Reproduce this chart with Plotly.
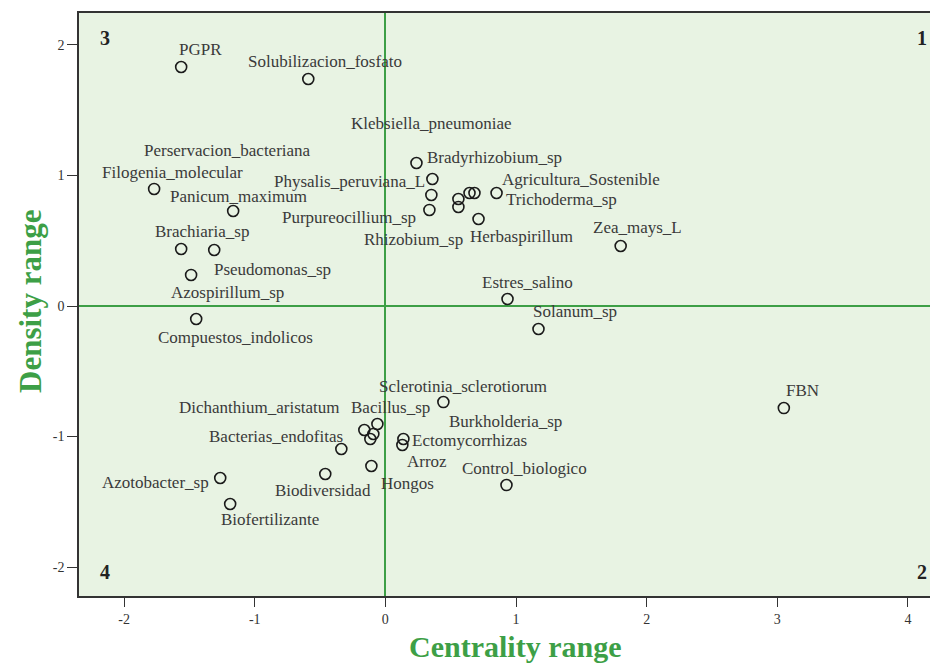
import plotly.graph_objects as go

names = ["PGPR", "Solubilizacion_fosfato", "Filogenia_molecular", "Panicum_maximum",
         "Brachiaria_sp", "Pseudomonas_sp", "Azospirillum_sp", "Compuestos_indolicos",
         "Bradyrhizobium_sp", "Physalis_peruviana_L", "Klebsiella_pneumoniae", "Purpureocillium_sp",
         "Perservacion_bacteriana", "Rhizobium_sp", "", "Agricultura_Sostenible",
         "Trichoderma_sp", "Herbaspirillum", "Zea_mays_L", "Estres_salino", "Solanum_sp", "FBN",
         "Sclerotinia_sclerotiorum", "Bacillus_sp", "Dichanthium_aristatum", "Burkholderia_sp", "",
         "Bacterias_endofitas", "Ectomycorrhizas", "Arroz", "Hongos", "Biodiversidad",
         "Azotobacter_sp", "Biofertilizante", "Control_biologico"]
centrality = [-1.563, -0.590, -1.770, -1.165,
              -1.563, -1.310, -1.487, -1.448,
              0.238, 0.360, 0.352, 0.337,
              0.559, 0.559, 0.644, 0.682,
              0.851, 0.713, 1.801, 0.935, 1.172, 3.050,
              0.444, -0.061, -0.161, -0.092, -0.115,
              -0.337, 0.138, 0.130, -0.107, -0.460,
              -1.264, -1.188, 0.927]
density = [1.831, 1.739, 0.897, 0.728,
           0.437, 0.429, 0.238, -0.100,
           1.096, 0.973, 0.851, 0.736,
           0.820, 0.759, 0.866, 0.866,
           0.866, 0.667, 0.460, 0.054, -0.176, -0.782,
           -0.736, -0.904, -0.950, -0.981, -1.019,
           -1.096, -1.019, -1.065, -1.226, -1.287,
           -1.318, -1.517, -1.372]
# label placement offsets in pixels (dx right, dy down)
label_dx = [19, 17, 18, 5, 21, 58, 36, 39, 78, -83, 0, -80, -231, -45, 0, 107, 65, 43, 17, 20, 37, 19,
            20, 13, -105, 132, 0, -65, 66, 25, 36, -2, -65, 40, 18]
label_dy = [-18, -18, -16, -14, -17, 19, 18, 18, -5, 2, -71, 8, -48, 33, 0, -13, 7, 18, -18, -16, -17, -18,
            -16, -16, -22, -13, 0, -13, 2, 16, 17, 17, 4, 16, -17]
quadrants = ["1", "2", "3", "4"]
x_ticks = [-2, -1, 0, 1, 2, 3, 4]
y_ticks = [-2, -1, 0, 1, 2]
x_title = "Centrality range"
y_title = "Density range"

GREEN = "#3d9f46"
BG = "#e8f3e3"
SERIF = "Liberation Serif"

# page body has ~8px margin on the left/top; figure is sized so the plot lands where the reference has it
OFF = 8
W, H = 938 - 2 * OFF, 663 - OFF
L, R, T, B = 79 - OFF, W, 13 - OFF, 596 - OFF

fig = go.Figure()
fig.add_trace(go.Scatter(
    x=centrality, y=density, mode="markers",
    marker=dict(symbol="circle-open", size=11, color="#1a1a1a", line=dict(width=1.6)),
    hoverinfo="text", text=names, showlegend=False))

for n, xv, yv, dx, dy in zip(names, centrality, density, label_dx, label_dy):
    if n:
        fig.add_annotation(x=xv, y=yv, xref="x", yref="y", text=n, showarrow=False,
                           xanchor="center", yanchor="middle",
                           xshift=dx, yshift=-dy, font=dict(family=SERIF, size=17, color="#3a3a3a"))

def px(xp):
    return (xp - OFF - L) / (R - L)
def py(yp):
    return 1 - (yp - OFF - T) / (B - T)
qpos = {"1": (922, 38), "2": (922, 572), "3": (105, 38), "4": (105, 572)}
for q in quadrants:
    qx, qy = qpos[q]
    fig.add_annotation(x=px(qx), y=py(qy), xref="paper", yref="paper", text="<b>" + q + "</b>",
                       showarrow=False, xanchor="center", yanchor="middle",
                       font=dict(family=SERIF, size=20, color="#222222"))

fig.add_annotation(x=px(515), y=py(646), xref="paper", yref="paper", text="<b>" + x_title + "</b>",
                   showarrow=False, xanchor="center", yanchor="middle",
                   font=dict(family=SERIF, size=30, color=GREEN))
fig.add_annotation(x=px(30), y=py(302), xref="paper", yref="paper", text="<b>" + y_title + "</b>",
                   showarrow=False, xanchor="center", yanchor="middle", textangle=-90,
                   font=dict(family=SERIF, size=31, color=GREEN))

x_max = 4.23 - 8 / 130.5
fig.update_layout(
    width=W, height=H,
    margin=dict(l=L, r=W - R, t=T, b=H - B),
    paper_bgcolor="white", plot_bgcolor=BG,
    font=dict(family=SERIF, color="#333333"),
    xaxis=dict(range=[-2.345, x_max], tickvals=x_ticks, ticktext=[str(v) for v in x_ticks],
               showgrid=False,
               zeroline=True, zerolinecolor=GREEN, zerolinewidth=1.5,
               showline=True, linecolor="#333333", linewidth=1.5, mirror=True,
               ticks="outside", ticklen=9, tickcolor="#333333",
               tickfont=dict(size=14, family=SERIF, color="#333333")),
    yaxis=dict(range=[-2.222, 2.245], tickvals=y_ticks, ticktext=[str(v) for v in y_ticks],
               showgrid=False,
               zeroline=True, zerolinecolor=GREEN, zerolinewidth=1.5,
               showline=True, linecolor="#333333", linewidth=1.5,
               ticks="outside", ticklen=10, tickcolor="#333333",
               tickfont=dict(size=14, family=SERIF, color="#333333")),
)

fig.write_html("out.html")
